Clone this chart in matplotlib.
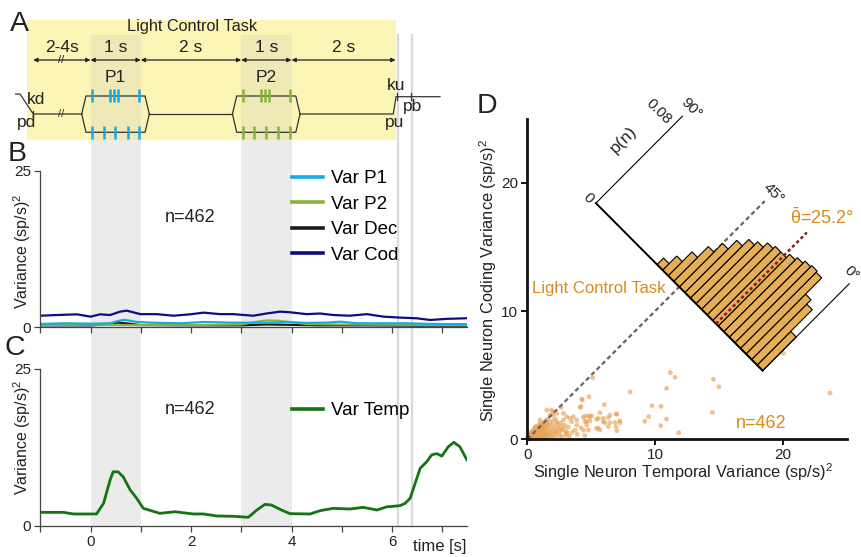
import numpy as np
import matplotlib
matplotlib.use("Agg")
import matplotlib.pyplot as plt
from matplotlib.patches import Rectangle
from matplotlib.transforms import Affine2D

plt.rcParams['font.family'] = ['Liberation Sans', 'DejaVu Sans']
plt.rcParams['mathtext.fontset'] = 'custom'
plt.rcParams['mathtext.rm'] = 'Liberation Sans'
plt.rcParams['mathtext.it'] = 'Liberation Sans:italic'
plt.rcParams['mathtext.bf'] = 'Liberation Sans:bold'

# ---------------- data ----------------
# Panel B
t_p1 = [-1.0, -0.5, 0.0, 0.39, 0.55, 0.65, 0.75, 0.92, 1.2, 1.8, 2.25, 2.8, 3.3, 3.6, 3.9,
        4.3, 4.7, 4.97, 5.3, 5.8, 6.3, 6.8, 7.5]
var_p1 = [0.53, 0.64, 0.58, 0.64, 1.0, 1.17, 1.1, 0.85, 0.74, 0.64, 0.85, 0.74, 0.74, 0.74, 0.85,
          0.7, 0.75, 0.9, 0.64, 0.64, 0.64, 0.53, 0.5]
t_p2 = [-1.0, 0.0, 1.0, 2.0, 3.0, 3.3, 3.5, 3.75, 4.0, 4.3, 5.0, 6.0, 7.0, 7.5]
var_p2 = [0.35, 0.4, 0.35, 0.35, 0.45, 0.9, 1.1, 1.05, 0.8, 0.5, 0.45, 0.4, 0.35, 0.35]
t_dec = [-1.0, 0.0, 0.3, 0.55, 0.75, 1.0, 2.0, 3.0, 3.5, 3.9, 4.5, 5.5, 6.5, 7.5]
var_dec = [0.3, 0.3, 0.45, 0.75, 0.6, 0.35, 0.3, 0.3, 0.45, 0.4, 0.3, 0.3, 0.25, 0.25]
t_cod = [-1.0, -0.67, -0.27, 0.0, 0.19, 0.39, 0.59, 0.72, 0.85, 0.99, 1.32, 1.65, 1.98, 2.25,
         2.58, 2.84, 3.24, 3.5, 3.77, 3.97, 4.3, 4.57, 4.83, 5.16, 5.5, 5.83, 6.16, 6.49, 6.76,
         7.1, 7.5]
var_cod = [1.85, 1.96, 2.07, 1.7, 2.07, 1.96, 2.5, 2.66, 2.4, 2.1, 2.1, 1.85, 2.07, 2.34,
           2.1, 2.1, 1.85, 2.2, 2.5, 2.4, 2.1, 2.2, 1.96, 1.85, 2.1, 1.7, 1.55, 1.44, 1.17,
           1.35, 1.45]

# Panel C
t_temp = [-1.0, -0.54, -0.34, 0.12, 0.26, 0.39, 0.45, 0.55, 0.65, 0.79, 0.92, 1.05, 1.38, 1.68,
          2.05, 2.25, 2.51, 2.84, 3.14, 3.31, 3.47, 3.6, 3.8, 3.97, 4.37, 4.57, 4.83, 5.16,
          5.43, 5.7, 5.89, 6.16, 6.26, 6.36, 6.46, 6.56, 6.69, 6.79, 6.89, 6.99, 7.12, 7.23,
          7.35, 7.49]
var_temp = [2.13, 2.13, 1.87, 1.87, 3.57, 7.3, 8.6, 8.6, 7.8, 5.7, 4.37, 2.77, 1.97, 2.23,
            1.87, 1.87, 1.55, 1.5, 1.34, 2.5, 3.4, 3.3, 2.5, 1.92, 1.87, 2.4, 2.77, 2.66,
            2.93, 2.5, 3.0, 3.2, 3.57, 4.37, 6.76, 9.15, 10.2, 11.3, 11.5, 11.1, 12.6, 13.3,
            12.6, 10.5]

# Panel A task timing (s)
p1_top_spikes = [0.03, 0.39, 0.47, 0.55, 0.97]
p1_bot_spikes = [0.03, 0.26, 0.49, 0.74, 0.97]
p2_top_spikes = [3.03, 3.39, 3.47, 3.55, 3.97]
p2_bot_spikes = [3.03, 3.26, 3.49, 3.74, 3.97]
epoch_bounds = [-1.14, 0.0, 1.0, 3.0, 4.0, 6.07]
epoch_labels = ['2-4s', '1 s', '2 s', '1 s', '2 s']
stim_windows = [(0.0, 1.0), (3.0, 4.0)]
event_lines = [6.12, 6.4]

# Panel D scatter (single neurons)
temporal_var = [20.05, 23.7, 11.2, 11.57, 14.57, 15.0, 10.9, 8.04, 5.12, 4.83, 4.3, 6.03, 9.77,
    10.47, 14.5, 9.5, 9.2, 10.9, 10.45, 11.85, 6.95, 6.95, 7.24, 4.13, 2.64, 4.26, 4.2,
    1.88, 2.0, 2.3, 3.08, 3.34, 3.87, 4.39, 4.65, 4.91, 5.56, 5.95, 6.47, 6.87, 6.34, 5.43,
    4.65, 3.74, 3.08, 2.56, 1.52, 2.82, 3.6, 4.52, 4.78, 5.04, 5.69, 6.34, 7.0, 4.52, 4.91,
    5.43, 5.95, 6.08, 6.47, 7.26, 7.0, 3.47, 3.87, 4.39, 4.78, 5.56, 5.69, 2.3, 2.82, 2.04,
    1.78, 1.52, 2.82, 3.08, 2.3, 2.56, 0.99, 0.6,
    0.05, 0.08, 0.12, 0.15, 0.18, 0.21, 0.24, 0.27, 0.3, 0.33, 0.36, 0.39, 0.42, 0.45, 0.48,
    0.51, 0.54, 0.57, 0.6, 0.63, 0.66, 0.69, 0.72, 0.75, 0.78, 0.81, 0.84, 0.87, 0.9, 0.93,
    0.96, 0.99, 1.03, 1.07, 1.11, 1.15, 1.19, 1.23, 1.27, 1.31, 1.35, 1.4, 1.45, 1.5, 1.55,
    1.6, 1.66, 1.72, 1.78, 1.84, 1.9, 1.97, 2.04, 2.11, 2.18, 2.26, 2.35, 2.44, 0.03, 0.1,
    0.2, 0.28, 0.35, 0.44, 0.52, 0.58, 0.68, 0.78, 0.86, 0.97, 1.08, 1.2, 1.32, 1.45, 0.06,
    0.14, 0.22, 0.32, 0.46, 0.62, 0.74, 0.88, 1.02, 1.16, 1.3, 0.16, 0.34, 0.5, 0.68, 0.9,
    1.12, 1.38, 1.62, 1.88, 2.15, 2.5, 2.7, 3.0, 3.3, 0.04, 0.09, 0.11, 0.19, 0.25, 0.4,
    0.55, 0.7, 0.85, 1.0, 1.25, 1.55, 1.75, 2.0, 2.2, 1.6, 2.6, 2.9, 3.2, 2.75, 3.5, 3.9,
    4.2, 4.5]
coding_var = [6.7, 3.6, 5.2, 4.83, 4.68, 4.1, 3.97, 3.69, 4.8, 3.32, 3.06, 2.7, 2.62,
    2.57, 2.1, 1.76, 1.4, 1.58, 1.06, 0.52, 1.97, 0.98, 1.45, 2.49, 2.49, 3.14, 2.54,
    2.28, 1.89, 2.02, 1.76, 1.63, 1.5, 1.7, 1.37, 1.76, 1.63, 1.37, 1.89, 1.31, 0.98, 0.86,
    1.11, 0.72, 0.59, 0.98, 1.24, 2.03, 1.76, 1.82, 1.82, 1.82, 2.07, 1.69, 1.95, 1.38, 1.43,
    1.56, 1.64, 1.29, 1.29, 1.29, 0.67, 1.37, 1.11, 0.72, 0.72, 0.86, 0.72, 1.37, 1.5, 2.15,
    1.89, 2.28, 0.86, 0.47, 0.47, 0.59, 1.5, 0.98,
    0.02, 0.1, 0.04, 0.18, 0.07, 0.12, 0.03, 0.22, 0.09, 0.16, 0.3, 0.05, 0.2, 0.11, 0.38,
    0.26, 0.08, 0.17, 0.45, 0.3, 0.12, 0.22, 0.55, 0.36, 0.06, 0.28, 0.47, 0.15, 0.62, 0.33,
    0.21, 0.4, 0.72, 0.1, 0.53, 0.29, 0.85, 0.44, 0.18, 0.63, 0.35, 0.95, 0.52, 0.25, 0.75,
    0.42, 1.05, 0.6, 0.3, 0.85, 0.5, 1.15, 0.7, 0.38, 0.95, 0.62, 1.2, 0.8, 0.25, 0.35,
    0.42, 0.55, 0.48, 0.7, 0.62, 0.85, 0.78, 1.05, 0.92, 1.2, 1.1, 1.3, 1.18, 1.45, 0.06,
    0.13, 0.2, 0.27, 0.33, 0.4, 0.48, 0.56, 0.64, 0.74, 0.82, 0.02, 0.04, 0.05, 0.03, 0.08,
    0.06, 0.12, 0.15, 0.2, 0.17, 0.3, 0.22, 0.3, 0.25, 0.14, 0.2, 0.28, 0.31, 0.09, 0.37,
    0.5, 0.62, 0.7, 0.88, 0.98, 1.1, 1.3, 1.45, 1.6, 1.55, 1.25, 1.1, 0.95, 0.7, 0.55, 0.4,
    0.9, 0.3]

# Panel D angle histogram (3 degree bins, p(n))
bin_left = [0, 3, 6, 9, 12, 15, 18, 21, 24, 27, 30, 33, 36, 39, 42, 45, 48, 51, 54]
bin_width = 3
p_hist = [0.031, 0.051, 0.055, 0.070, 0.071, 0.070, 0.068, 0.066, 0.063, 0.063, 0.061,
          0.057, 0.054, 0.048, 0.040, 0.032, 0.022, 0.013, 0.006]
mean_angle = 25.2
n_cells = 462

# ---------------- colours ----------------
C_P1 = '#17ABE3'
C_P2 = '#8BB23B'
C_DEC = '#1a1a1a'
C_COD = '#0d0d80'
C_TEMP = '#147314'
C_ORANGE = '#D98A1F'
C_HIST = '#E6AE55'
C_DOT = '#E9A257'
C_YEL = '#FBF5B6'
C_YEL2 = '#EEE9B6'
C_GREY = '#EBEBEB'

# ---------------- layout helpers ----------------
W, H = 861, 557
T0, PXS = 90.5, 50.25


def tp(px):
    return (px - T0) / PXS


def ftext(px, py, s, **kw):
    kw.setdefault('ha', 'center')
    kw.setdefault('va', 'center')
    return fig.text(px / W, 1 - py / H, s, **kw)


fig = plt.figure(figsize=(W / 100, H / 100), dpi=100)
fig.patch.set_facecolor('white')

# background axes: x in seconds, y in pixel rows
axbg = fig.add_axes([0, 0, 1, 1], zorder=0)
axbg.set_xlim(tp(0), tp(W))
axbg.set_ylim(H, 0)
axbg.axis('off')

axbg.add_patch(Rectangle((tp(27), 20), tp(395.7) - tp(27), 120, color=C_YEL, lw=0, zorder=0))
for a, b in stim_windows:
    axbg.add_patch(Rectangle((a, 35), b - a, 105, color=C_YEL2, lw=0, zorder=1))
    axbg.add_patch(Rectangle((a, 140), b - a, 525.7 - 140, color=C_GREY, lw=0, zorder=1))
for ev in event_lines:
    axbg.plot([ev, ev], [35, 525.7], color='#DADADA', lw=1.6, zorder=1)

# epoch arrows
for (a, b), lab in zip(zip(epoch_bounds[:-1], epoch_bounds[1:]), epoch_labels):
    axbg.annotate('', xy=(b, 60), xytext=(a, 60),
                  arrowprops=dict(arrowstyle='<|-|>', lw=0.9, color='#222222',
                                  mutation_scale=6, shrinkA=0, shrinkB=0), zorder=3)
    ftext(T0 + PXS * (a + b) / 2, 48, lab, fontsize=12.5, color='#222222')
ftext(61, 60, '//', fontsize=8, color='#222222')

# trace
kw_tr = dict(color='#333333', lw=0.9, zorder=3)
hx = [-0.175, -0.09, 1.085, 1.17]
axbg.plot([tp(15.7), tp(20), tp(33.3), hx[0]], [94, 94, 114, 114], **kw_tr)
for off in (0, 3):
    xs = [hx[0] + off, hx[1] + off, hx[2] + off, hx[3] + off]
    axbg.plot(xs, [114, 96, 96, 114], **kw_tr)
    axbg.plot(xs, [114, 132.3, 132.3, 114], **kw_tr)
axbg.plot([hx[3], hx[0] + 3], [114, 114], **kw_tr)
axbg.plot([hx[3] + 3, tp(393.3), tp(396), tp(440)], [114, 114, 96.7, 96.7], **kw_tr)
ftext(61, 114, '//', fontsize=8, color='#333333')
axbg.plot([tp(33.3)] * 2, [111, 117], **kw_tr)
axbg.plot([tp(396.7)] * 2, [93, 100], **kw_tr)
axbg.plot([tp(411)] * 2, [93, 100], **kw_tr)

axbg.vlines(p1_top_spikes, 89, 102, color=C_P1, lw=1.8, zorder=4)
axbg.vlines(p1_bot_spikes, 125.5, 139, color=C_P1, lw=1.8, zorder=4)
axbg.vlines(p2_top_spikes, 89, 102, color=C_P2, lw=1.8, zorder=4)
axbg.vlines(p2_bot_spikes, 125.5, 139, color=C_P2, lw=1.8, zorder=4)

ftext(192.5, 27, 'Light Control Task', fontsize=11.7, color='#222222')
ftext(115.5, 77, 'P1', fontsize=12.5, color='#222222')
ftext(266, 77, 'P2', fontsize=12.5, color='#222222')
for px, py, s in [(36, 100, 'kd'), (27, 122, 'pd'), (396, 86, 'ku'), (395, 123, 'pu'), (413, 107, 'pb')]:
    ftext(px, py, s, fontsize=12.5, color='#222222')

# panel letters
for px, py, s in [(19, 31, 'A'), (17, 161, 'B'), (15, 355, 'C'), (487, 113, 'D')]:
    ftext(px, py, s, fontsize=20.5, color='#222222', va='baseline')


def style_time_axis(ax, labels):
    ax.patch.set_alpha(0)
    ax.set_xlim(-1, 7.5)
    ax.set_ylim(0, 25)
    for sp in ('top', 'right'):
        ax.spines[sp].set_visible(False)
    for sp in ('left', 'bottom'):
        ax.spines[sp].set_color('#444444')
        ax.spines[sp].set_linewidth(0.9)
    ax.set_yticks([0, 25])
    ax.set_xticks(range(-1, 8))
    ax.set_xticklabels(['', '0', '', '2', '', '4', '', '6', ''] if labels else [])
    ax.tick_params(direction='out', length=4.5, width=0.9, color='#444444',
                   labelsize=11, labelcolor='#222222', pad=2)


# Panel B
axB = fig.add_axes([40.25 / W, 1 - 327.3 / H, (467.4 - 40.25) / W, (327.3 - 170.7) / H], zorder=2)
style_time_axis(axB, False)
lDec, = axB.plot(t_dec, var_dec, color=C_DEC, lw=1.5, label='Var Dec')
lP2, = axB.plot(t_p2, var_p2, color=C_P2, lw=1.5, label='Var P2')
lP1, = axB.plot(t_p1, var_p1, color=C_P1, lw=1.6, label='Var P1')
lCod, = axB.plot(t_cod, var_cod, color=C_COD, lw=1.6, label='Var Cod')
legB = axB.legend(handles=[lP1, lP2, lDec, lCod], loc='upper left',
                  bbox_to_anchor=(292 / W, 1 - 170 / H), bbox_transform=fig.transFigure,
                  frameon=False, fontsize=13.5, handlelength=1.65, handletextpad=0.45,
                  labelspacing=0.45, borderpad=0, borderaxespad=0)
for h in legB.legend_handles:
    h.set_linewidth(2.6)
ftext(190, 217, 'n=%d' % n_cells, fontsize=13, color='#222222')
ftext(22, 251, 'Variance (sp/s)$^2$', fontsize=11.5, rotation=90, color='#222222')

# Panel C
axC = fig.add_axes([40.25 / W, 1 - 525.7 / H, (467.4 - 40.25) / W, (525.7 - 369) / H], zorder=2)
style_time_axis(axC, True)
lT, = axC.plot(t_temp, var_temp, color=C_TEMP, lw=2.0, label='Var Temp')
legC = axC.legend(handles=[lT], loc='upper left',
                  bbox_to_anchor=(292 / W, 1 - 402 / H), bbox_transform=fig.transFigure,
                  frameon=False, fontsize=13.5, handlelength=1.65, handletextpad=0.45,
                  borderpad=0, borderaxespad=0)
for h in legC.legend_handles:
    h.set_linewidth(2.6)
ftext(190, 410, 'n=%d' % n_cells, fontsize=13, color='#222222')
ftext(22, 437, 'Variance (sp/s)$^2$', fontsize=11.5, rotation=90, color='#222222')
ftext(440, 546, 'time [s]', fontsize=12, color='#222222')

# Panel D
axD = fig.add_axes([527.3 / W, 1 - 439.3 / H, (846.6 - 527.3) / W, (439.3 - 118.6) / H], zorder=2)
axD.patch.set_alpha(0)
axD.scatter(temporal_var, coding_var, s=12, color=C_DOT, alpha=0.65, edgecolors='none',
            zorder=1, clip_on=False)

k_ang = 13.06 / 90.0   # data units per degree along the base
s_p = 84.7              # data units (x and y) per unit p(n)
aff = Affine2D(np.array([[-k_ang, s_p, 18.43], [k_ang, s_p, 5.35], [0, 0, 1]]))
tr = aff + axD.transData

end45 = aff.transform((45, 0.079))
axD.plot([0, end45[0]], [0, end45[1]], color='#666666', lw=1.6, ls=(0, (2, 1.4)), zorder=2,
         clip_on=False)
axD.bar(bin_left, p_hist, width=bin_width, align='edge', transform=tr, color=C_HIST,
        edgecolor='black', linewidth=0.8, zorder=3, clip_on=False)
axD.plot([0, 90], [0, 0], transform=tr, color='black', lw=1.4, zorder=4, clip_on=False)
axD.plot([90, 90], [0, 0.08], transform=tr, color='black', lw=0.8, zorder=4, clip_on=False)
axD.plot([0, 0], [0, 0.08], transform=tr, color='black', lw=0.8, zorder=4, clip_on=False)
axD.plot([mean_angle, mean_angle], [0, 0.084], transform=tr, color='#8B1A1A', lw=1.8,
         ls=(0, (1.3, 1.1)), zorder=5, clip_on=False)

axD.set_xlim(0, 25)
axD.set_ylim(0, 25)
for sp in ('top', 'right'):
    axD.spines[sp].set_visible(False)
for sp in ('left', 'bottom'):
    axD.spines[sp].set_linewidth(2.0)
    axD.spines[sp].set_color('#111111')
axD.set_xticks([0, 10, 20])
axD.set_yticks([0, 10, 20])
axD.tick_params(direction='out', length=4.5, width=1.3, labelsize=11, labelcolor='#222222', pad=2)

ftext(683, 472, 'Single Neuron Temporal Variance (sp/s)$^2$', fontsize=11.8, color='#222222')
ftext(488, 281, 'Single Neuron Coding Variance (sp/s)$^2$', fontsize=11.8, rotation=90,
      color='#222222')

ftext(588, 198, '0', fontsize=11, rotation=-45, color='#222222')
ftext(659, 111.7, '0.08', fontsize=11, rotation=-45, color='#222222')
ftext(691.7, 108.3, '90°', fontsize=11, rotation=-45, color='#222222')
ftext(623.3, 140, 'p(n)', fontsize=12.5, rotation=45, color='#222222')
ftext(851.7, 273.3, '0°', fontsize=11, rotation=-45, color='#222222')
ftext(773.3, 193.3, '45°', fontsize=11, rotation=-45, color='#222222')
ftext(822, 218, r'$\bar{\mathrm{θ}}$=%.1f°' % mean_angle, fontsize=13, color=C_ORANGE)
ftext(599, 289, 'Light Control Task', fontsize=12, color=C_ORANGE)
ftext(761, 424, 'n=%d' % n_cells, fontsize=13, color=C_ORANGE)

fig.savefig('out.png', dpi=100)
